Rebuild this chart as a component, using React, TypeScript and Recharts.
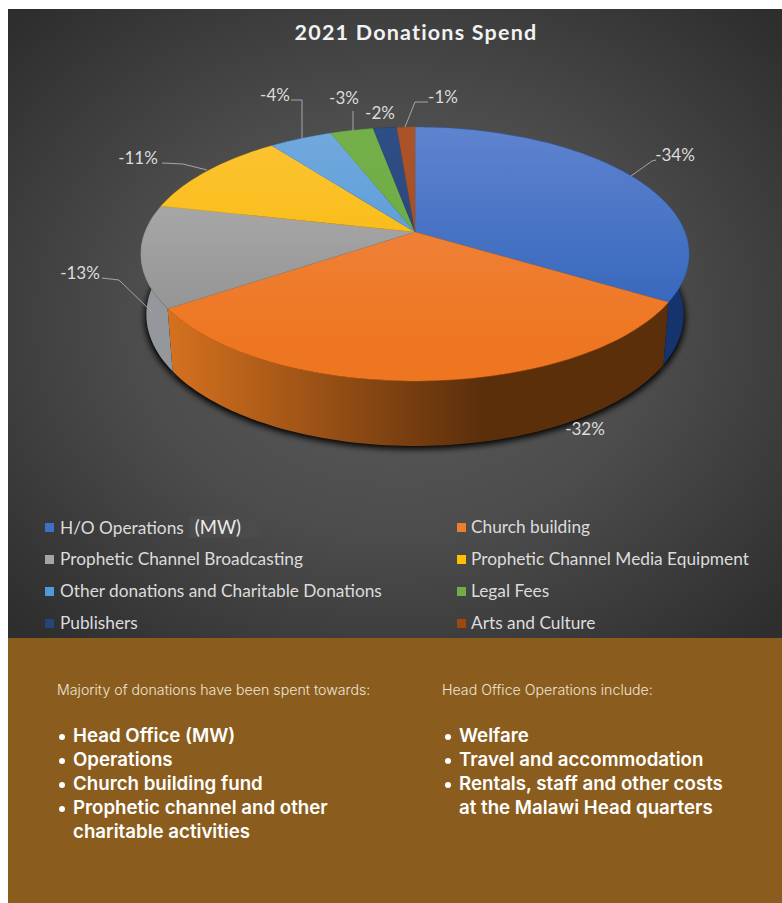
import { Pie, PieChart } from 'recharts'

// 2021 donations spend: tilted 3D pie, drawn by Recharts with projected sector shapes

const CATEGORIES = [
  'H/O Operations',
  'Church building',
  'Prophetic Channel Broadcasting',
  'Prophetic Channel Media Equipment',
  'Other donations and Charitable Donations',
  'Legal Fees',
  'Publishers',
  'Arts and Culture',
]
// the labels show them rounded
const SPEND = [33.7, 31.8, 13, 11.2, 4.4, 3, 1.65, 1.25]

const LEFT_POINTS = ['Head Office (MW)', 'Operations', 'Church building fund', 'Prophetic channel and other\ncharitable activities']
const RIGHT_POINTS = ['Welfare', 'Travel and accommodation', 'Rentals, staff and other costs\nat the Malawi Head quarters']

// [top of disc light, top of disc dark, wall left, wall right]
const COLORS = [
  ['#5f83cf', '#2f62b8', '#1c3d78', '#15336c'],
  ['#ef8a4c', '#ee7620', '#d6721f', '#5c2f0b'],
  ['#b4b4b4', '#8f8f8f', '#94979b', '#777a7e'],
  ['#fdc435', '#f5b700', '#a07a10', '#806008'],
  ['#72a9dd', '#4c94d8', '#2f6a9c', '#28587f'],
  ['#74b04a', '#6aaa42', '#47752c', '#3c6425'],
  ['#2f4e85', '#264377', '#1c3055', '#182a4a'],
  ['#ab5429', '#a44c20', '#6f3315', '#5f2b12'],
]
const SWATCHES = ['#3f6fc6', '#ed7d31', '#a5a5a5', '#ffc000', '#4e9bdc', '#70ad47', '#264478', '#9e480e']

const chartData = CATEGORIES.map((name, i) => ({ name, value: SPEND[i] }))

// label text centre and leader line, in page pixels
const LABEL_SPOTS = [
  { x: 675, y: 155, line: '631,176 652,161 656,160' },
  { x: 585, y: 429, line: '' },
  { x: 80, y: 273, line: '102,278 119,280 152,312' },
  { x: 138, y: 158, line: '162,163 183,164 207,170' },
  { x: 275, y: 95, line: '291,100 302,100 302,138' },
  { x: 344, y: 98, line: '353,111 353,131' },
  { x: 380, y: 113, line: '' },
  { x: 443, y: 97, line: '405,127 415,102 428,102' },
]

const PERSPECTIVE = 0.173
const SQUASH = 0.456

// polar angle on the flat disc -> page position on the tilted disc
function project(cx: number, cy: number, r: number, deg: number, drop = 0, sx = 1, sy = 1) {
  const a = (deg * Math.PI) / 180
  const u = Math.cos(a)
  const v = -Math.sin(a)
  const w = 1 - PERSPECTIVE * v
  return { x: cx + (sx * r * u) / w, y: cy + drop + (sy * r * SQUASH * v) / w }
}

function arc(p: any, drop = 0, sx = 1, sy = 1) {
  const steps = Math.max(2, Math.ceil(Math.abs(p.endAngle - p.startAngle) / 1.5))
  const pts = []
  for (let i = 0; i <= steps; i++) {
    const deg = p.startAngle + ((p.endAngle - p.startAngle) * i) / steps
    const q = project(p.cx, p.cy, p.outerRadius, deg, drop, sx, sy)
    pts.push(`${q.x.toFixed(1)},${q.y.toFixed(1)}`)
  }
  return pts
}

const DROP = 60
const LOW_X = 0.98
const LOW_Y = 1.034

function TopShape(p: any) {
  const d = `M${p.cx},${p.cy} L${arc(p).join(' L')} Z`
  return <path d={d} fill={`url(#top${p.index})`} stroke={COLORS[p.index][1]} strokeWidth={0.4} />
}

function WallShape(p: any) {
  const pts = [...arc(p), ...arc(p, DROP, LOW_X, LOW_Y).reverse()]
  return <path d={`M${pts.join(' L')} Z`} fill={`url(#wall${p.index})`} />
}

function ShadowShape(p: any) {
  const d = `M${p.cx},${p.cy + DROP} L${arc(p, DROP + 3, LOW_X + 0.005, LOW_Y).join(' L')} Z`
  return <path d={d} fill="#000" filter="url(#blur)" />
}

function PctLabel(p: any) {
  const s = LABEL_SPOTS[p.index]
  return (
    <g>
      {s.line && <polyline points={s.line} fill="none" stroke="#a6a6a6" strokeWidth={1} />}
      <text x={s.x} y={s.y + 6} textAnchor="middle" fontFamily="Lato" fontSize={17} fill="#dcdcdc">
        {`-${Math.round(SPEND[p.index])}%`}
      </text>
    </g>
  )
}

function Points({ items, x }: { items: string[]; x: number }) {
  return (
    <ul style={{ position: 'absolute', left: x, top: 724, margin: 0, padding: 0, listStyle: 'none', color: '#fff', fontFamily: 'Inter', fontWeight: 600, fontSize: 18.7, lineHeight: '24px' }}>
      {items.map((t) => (
        <li key={t} style={{ position: 'relative', paddingLeft: 16, whiteSpace: 'pre' }}>
          <span style={{ position: 'absolute', left: 2, top: 10, width: 6, height: 6, borderRadius: 3, background: '#fff' }} />
          {t}
        </li>
      ))}
    </ul>
  )
}

function Legend() {
  return (
    <>
      {CATEGORIES.map((c, i) => (
        <div
          key={c}
          style={{ position: 'absolute', left: i % 2 ? 457 : 45, top: 516 + Math.floor(i / 2) * 32, height: 22, lineHeight: '22px', whiteSpace: 'nowrap', fontFamily: 'Lato', fontSize: 17.3, color: '#dcdcdc' }}
        >
          <span style={{ position: 'absolute', left: 0, top: 7, width: 9, height: 9, background: SWATCHES[i] }} />
          <span style={{ marginLeft: i % 2 ? 14 : 15 }}>{c}</span>
          {i === 0 && <span style={{ marginLeft: 5, padding: '0 18px 0 6px', background: '#4b4b4b', color: '#ececec', fontSize: 18.5 }}>(MW)</span>}
        </div>
      ))}
    </>
  )
}

export default function App() {
  const pieProps = {
    data: chartData,
    dataKey: 'value',
    nameKey: 'name',
    cx: 415,
    cy: 232,
    outerRadius: 270,
    startAngle: 90,
    endAngle: -270,
    isAnimationActive: false,
    stroke: 'none',
    labelLine: false,
  }
  return (
    <div style={{ position: 'absolute', left: 0, top: 0, width: 782, height: 903, background: '#fff', overflow: 'hidden' }}>
      <div style={{ position: 'absolute', left: 8, top: 9, width: 774, height: 629, background: 'radial-gradient(ellipse 68% 68% at 50% 50%, #5c5c5c 0%, #4c4c4c 50%, #2e2e2e 100%)' }} />
      <div style={{ position: 'absolute', left: 0, top: 19, width: 832, textAlign: 'center', fontFamily: 'Lato', fontWeight: 700, fontSize: 21.5, letterSpacing: 1.2, color: '#f2f2f2' }}>
        2021 Donations Spend
      </div>
      <div style={{ position: 'absolute', left: 0, top: 0 }}>
        <PieChart width={782} height={640} margin={{ top: 0, right: 0, bottom: 0, left: 0 }}>
          <defs>
            <filter id="blur" x="-20%" y="-20%" width="140%" height="140%">
              <feGaussianBlur stdDeviation="3" />
            </filter>
            {COLORS.map((c, i) => (
              <linearGradient key={`t${i}`} id={`top${i}`} gradientUnits="userSpaceOnUse" x1="0" y1="127" x2="0" y2="381">
                <stop offset="0" stopColor={c[0]} />
                <stop offset="0.85" stopColor={c[1]} />
              </linearGradient>
            ))}
            {COLORS.map((c, i) => (
              <linearGradient key={`w${i}`} id={`wall${i}`} gradientUnits="userSpaceOnUse" x1="165" y1="0" x2={i === 1 ? '480' : '690'} y2="0">
                <stop offset="0" stopColor={c[2]} />
                <stop offset="1" stopColor={c[3]} />
              </linearGradient>
            ))}
          </defs>
          <Pie {...pieProps} shape={ShadowShape} />
          <Pie {...pieProps} shape={WallShape} />
          <Pie {...pieProps} shape={TopShape} label={PctLabel} />
        </PieChart>
      </div>
      <Legend />
      <div style={{ position: 'absolute', left: 8, top: 638, width: 774, height: 265, background: '#8a5d1e' }} />
      <div style={{ position: 'absolute', left: 57, top: 681, fontFamily: 'Inter', fontWeight: 300, fontSize: 14.2, color: '#efe6d8', whiteSpace: 'nowrap' }}>
        Majority of donations have been spent towards:
      </div>
      <div style={{ position: 'absolute', left: 442, top: 681, fontFamily: 'Inter', fontWeight: 300, fontSize: 14.2, color: '#efe6d8', whiteSpace: 'nowrap' }}>
        Head Office Operations include:
      </div>
      <Points items={LEFT_POINTS} x={57} />
      <Points items={RIGHT_POINTS} x={443} />
    </div>
  )
}
